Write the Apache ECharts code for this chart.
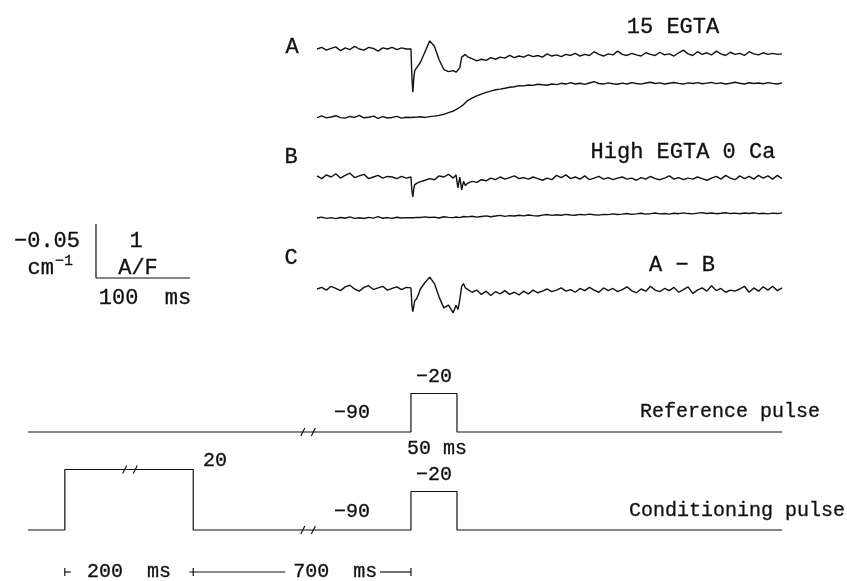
<!DOCTYPE html>
<html><head><meta charset="utf-8">
<script src="https://cdn.jsdelivr.net/npm/echarts@6/dist/echarts.min.js"></script>
<style>html,body{margin:0;padding:0;background:#fff}#c{width:847px;height:581px}</style>
</head><body><div id="c"></div>
<script>
// ---- time base of the recorded traces (ms, relative to test-pulse onset) ----
const traceTime = [
 -100,-95,-90,-85,-80,-75,-70,-65,-60,-55,-50,-45,-40,-35,-30,-25,-20,-15,-10,-5,
 0,1,2,3,4,6,8,10,
 15,20,25,30,35,40,45,
 48,50,52,54,56,58,
 60,65,70,75,80,85,90,95,100,105,
 110,115,120,125,130,135,140,145,150,155,
 160,165,170,175,180,185,190,195,200,205,
 210,215,220,225,230,235,240,245,250,255,
 260,265,270,275,280,285,290,295,300,305,
 310,315,320,325,330,335,340,345,350,355,
 360,365,370,375,380,385,390,395
];
// A: 15 EGTA, current (A/F)
const traceA1 = [
 0.00,0.03,-0.02,0.01,0.04,-0.03,0.02,-0.01,0.05,0.00,-0.02,0.03,0.01,-0.04,0.02,0.00,0.03,-0.01,0.02,0.00,
 0.00,-0.50,-0.80,-0.55,-0.40,-0.35,-0.30,-0.25,
 -0.05,0.15,0.05,-0.20,-0.38,-0.42,-0.40,
 -0.43,-0.45,-0.35,-0.15,-0.12,-0.10,
 -0.14,-0.18,-0.22,-0.19,-0.21,-0.16,-0.19,-0.15,-0.17,-0.12,
 -0.16,-0.13,-0.15,-0.11,-0.14,-0.12,-0.15,-0.09,-0.13,-0.11,
 -0.14,-0.10,-0.12,-0.08,-0.13,-0.10,-0.12,-0.05,-0.10,-0.13,
 -0.09,-0.11,-0.04,-0.10,-0.12,-0.08,-0.11,-0.13,-0.07,-0.10,
 -0.12,-0.06,-0.11,-0.09,-0.13,-0.07,-0.02,-0.09,-0.12,-0.05,
 -0.10,-0.07,-0.11,-0.04,-0.09,-0.12,-0.06,-0.10,-0.08,-0.12,
 -0.05,-0.09,-0.11,-0.07,-0.10,-0.08,-0.10,-0.09
];
// A: 15 EGTA, absorbance (cm^-1)
const traceA2 = [
 0.0005,-0.0010,0.0008,0.0000,-0.0012,0.0006,0.0010,-0.0005,0.0003,-0.0015,0.0007,0.0002,-0.0008,0.0012,-0.0003,0.0009,0.0004,-0.0006,0.0011,0.0002,
 0.0005,0.0003,0.0006,0.0002,0.0004,0.0001,0.0003,-0.0002,
 0.0004,-0.0003,-0.0008,-0.0015,-0.0025,-0.0040,-0.0055,
 -0.0068,-0.0078,-0.0090,-0.0102,-0.0115,-0.0130,
 -0.0150,-0.0175,-0.0195,-0.0212,-0.0228,-0.0240,-0.0252,-0.0258,-0.0266,-0.0275,
 -0.0280,-0.0290,-0.0288,-0.0296,-0.0293,-0.0303,-0.0298,-0.0294,-0.0306,-0.0300,
 -0.0312,-0.0305,-0.0318,-0.0306,-0.0312,-0.0302,-0.0315,-0.0328,-0.0310,-0.0305,
 -0.0316,-0.0308,-0.0303,-0.0314,-0.0306,-0.0318,-0.0310,-0.0304,-0.0315,-0.0322,
 -0.0310,-0.0316,-0.0306,-0.0313,-0.0320,-0.0311,-0.0305,-0.0316,-0.0310,-0.0318,
 -0.0308,-0.0314,-0.0320,-0.0309,-0.0316,-0.0306,-0.0313,-0.0322,-0.0312,-0.0306,
 -0.0317,-0.0310,-0.0315,-0.0308,-0.0318,-0.0311,-0.0306,-0.0316
];
// B: High EGTA 0 Ca, current (A/F)
const traceB1 = [
 0.02,-0.03,0.04,0.00,0.06,-0.02,0.03,0.07,-0.01,0.02,0.05,-0.03,0.00,0.03,-0.02,0.01,0.00,-0.03,0.01,-0.02,
 0.00,-0.25,-0.37,-0.22,-0.14,-0.15,-0.10,-0.11,
 -0.06,-0.03,-0.05,0.02,0.00,0.05,-0.02,
 0.04,-0.20,0.00,-0.24,-0.08,-0.16,
 -0.12,-0.08,-0.10,-0.05,-0.07,-0.02,-0.05,0.00,-0.04,-0.01,
 0.02,-0.03,-0.01,-0.04,0.00,-0.03,-0.06,-0.02,-0.05,0.03,
 -0.01,0.04,-0.03,0.00,-0.04,0.02,-0.05,-0.02,0.01,-0.04,
 -0.01,-0.05,-0.02,0.00,-0.04,-0.02,-0.06,-0.01,-0.04,0.01,
 -0.03,-0.05,-0.02,0.02,-0.04,-0.01,-0.05,-0.02,-0.04,0.00,
 -0.03,-0.06,-0.02,0.01,-0.04,0.03,-0.02,-0.05,0.02,-0.03,
 0.01,-0.04,0.03,-0.02,0.02,-0.04,0.03,-0.03
];
// B: High EGTA 0 Ca, absorbance (cm^-1)
const traceB2 = [
 0.0000,-0.0008,0.0004,-0.0003,0.0006,-0.0005,0.0002,-0.0010,0.0003,-0.0002,0.0005,-0.0006,0.0001,-0.0012,0.0002,-0.0004,0.0004,-0.0007,0.0000,-0.0003,
 -0.0002,-0.0005,0.0001,-0.0003,0.0000,-0.0006,-0.0002,-0.0004,
 -0.0010,-0.0004,-0.0008,0.0000,-0.0012,-0.0006,-0.0003,
 -0.0009,-0.0012,-0.0004,-0.0008,-0.0014,-0.0006,
 -0.0010,-0.0016,-0.0008,-0.0014,-0.0020,-0.0012,-0.0018,-0.0024,-0.0015,-0.0022,
 -0.0018,-0.0026,-0.0020,-0.0028,-0.0022,-0.0019,-0.0027,-0.0032,-0.0024,-0.0030,
 -0.0026,-0.0034,-0.0028,-0.0025,-0.0033,-0.0029,-0.0036,-0.0030,-0.0027,-0.0034,
 -0.0031,-0.0038,-0.0032,-0.0036,-0.0042,-0.0034,-0.0038,-0.0044,-0.0036,-0.0040,
 -0.0046,-0.0038,-0.0042,-0.0036,-0.0044,-0.0040,-0.0047,-0.0041,-0.0038,-0.0045,
 -0.0050,-0.0042,-0.0046,-0.0040,-0.0044,-0.0049,-0.0041,-0.0045,-0.0039,-0.0046,
 -0.0042,-0.0048,-0.0040,-0.0044,-0.0038,-0.0045,-0.0041,-0.0047
];
// C: A - B (A/F)
const traceC = [
 0.00,0.03,-0.02,0.05,0.01,-0.03,0.04,0.07,0.00,-0.04,0.03,0.06,-0.01,0.02,0.05,-0.02,0.01,0.04,-0.01,0.03,
 0.02,-0.30,-0.42,-0.32,-0.22,-0.18,-0.10,0.00,
 0.12,0.22,0.10,-0.15,-0.35,-0.30,-0.44,
 -0.30,-0.38,-0.20,0.05,0.10,0.02,
 0.04,-0.06,-0.02,-0.10,-0.04,-0.12,-0.05,-0.09,-0.03,-0.10,
 -0.06,-0.11,-0.04,-0.09,-0.02,-0.07,-0.04,0.00,-0.05,-0.02,
 0.02,-0.04,-0.01,-0.06,0.01,-0.03,0.03,-0.02,-0.06,0.02,
 -0.03,0.01,-0.05,-0.01,0.04,-0.03,-0.07,0.00,-0.04,0.05,
 -0.02,-0.05,0.01,-0.03,0.03,-0.06,-0.01,0.04,-0.08,-0.02,
 0.02,-0.04,0.06,-0.03,0.01,-0.06,-0.02,-0.04,0.00,0.05,
 -0.06,0.02,-0.04,0.04,-0.02,0.05,-0.03,0.02
];
// ---- pulse protocols (time ms, membrane potential mV) ----
const refPulseTime = [-40, 900, 900, 950, 950, 1303];
const refPulseMv   = [-90, -90, -20, -20, -90, -90];
const condPulseTime = [-40, 0, 0, 200, 200, 900, 900, 950, 950, 1303];
const condPulseMv   = [-90, -90, 20, 20, -90, -90, -20, -20, -90, -90];
const axisBreaks = [[65, 137], [319, 794]]; // omitted time spans (ms)
const refBreakMarks = [[319, -90], [794, -90]];
const condBreakMarks = [[65, 20], [137, 20], [319, -90], [794, -90]];

// ---- layout ----
const FONT = '"Liberation Mono", "Courier New", monospace';
const PX_PER_UNIT = 54;           // 1 A/F  == 0.05 cm^-1
const PX_PER_CM = PX_PER_UNIT / 0.05;
const TR_LEFT = 317, TR_WIDTH = 465, T_MIN = -100, T_MAX = 395;
const PX_PER_MS = TR_WIDTH / (T_MAX - T_MIN);
const PX_PER_MV = 0.55;

const chart = echarts.init(document.getElementById('c'), null, {renderer: 'canvas'});
const grids = [], xAxes = [], yAxes = [], series = [];

function pairs(xs, ys) { return xs.map((x, i) => [x, ys[i]]); }

function addTrace(values, baseY, kind) {
  const gi = grids.length;
  if (kind === 'AF') {
    const lo = -1, hi = 0.5;
    grids.push({left: TR_LEFT, width: TR_WIDTH, top: baseY - hi * PX_PER_UNIT, height: (hi - lo) * PX_PER_UNIT});
    yAxes.push({gridIndex: gi, type: 'value', min: lo, max: hi, show: false});
  } else {
    const lo = -0.04, hi = 0.01;
    grids.push({left: TR_LEFT, width: TR_WIDTH, top: baseY - (0 - lo) * PX_PER_CM, height: (hi - lo) * PX_PER_CM});
    yAxes.push({gridIndex: gi, type: 'value', min: lo, max: hi, inverse: true, show: false});
  }
  xAxes.push({gridIndex: gi, type: 'value', min: T_MIN, max: T_MAX, show: false});
  series.push({type: 'line', xAxisIndex: gi, yAxisIndex: gi, data: pairs(traceTime, values),
    showSymbol: false, symbol: 'none', lineStyle: {color: '#111', width: 1.4}, silent: true, animation: false});
}
addTrace(traceA1, 49, 'AF');
addTrace(traceA2, 117, 'CM');
addTrace(traceB1, 177, 'AF');
addTrace(traceB2, 218, 'CM');
addTrace(traceC, 289, 'AF');

function breakMarkSeries(gi, data) {
  return {type: 'custom', xAxisIndex: gi, yAxisIndex: gi, data: data, silent: true, animation: false, clip: false,
    renderItem: function (params, api) {
      const p = api.coord([api.value(0), api.value(1)]);
      return {type: 'line', shape: {x1: p[0] - 2, y1: p[1] + 4, x2: p[0] + 2, y2: p[1] - 4},
        style: {stroke: '#111', lineWidth: 1.2}};
    }};
}
function addProtocol(times, mv, baseY, marks) {
  const gi = grids.length;
  const lo = -100, hi = 30;
  grids.push({left: 28, width: 754, top: baseY - (hi - (-90)) * PX_PER_MV, height: (hi - lo) * PX_PER_MV});
  xAxes.push({gridIndex: gi, type: 'value', min: -40, max: 1303, show: false,
    breaks: axisBreaks.map(b => ({start: b[0], end: b[1], gap: '1.4%'})),
    breakArea: {show: false}});
  yAxes.push({gridIndex: gi, type: 'value', min: lo, max: hi, show: false});
  series.push({type: 'line', xAxisIndex: gi, yAxisIndex: gi, data: pairs(times, mv),
    showSymbol: false, symbol: 'none', lineStyle: {color: '#111', width: 1.2}, silent: true, animation: false});
  series.push(breakMarkSeries(gi, marks));
  return gi;
}
const refGi = addProtocol(refPulseTime, refPulseMv, 432, refBreakMarks);
const condGi = addProtocol(condPulseTime, condPulseMv, 530, condBreakMarks);

function txt(t, x, y, size, align) {
  return {type: 'text', silent: true, style: {text: t, x: x, y: y, fill: '#111',
    stroke: '#111', lineWidth: 0.3,
    font: size + 'px ' + FONT, align: align || 'center', verticalAlign: 'middle'}};
}
function ln(x1, y1, x2, y2, w) {
  return {type: 'line', silent: true, shape: {x1, y1, x2, y2}, style: {stroke: '#111', lineWidth: w || 1.2}};
}

chart.setOption({
  animation: false,
  backgroundColor: '#fff',
  grid: grids, xAxis: xAxes, yAxis: yAxes, series: series
});

// annotations positioned from the axes' scales
const X = (gi, t) => chart.convertToPixel({xAxisIndex: gi}, t);
const sbX = 96, sbY = 278;
const x0 = X(condGi, 0), x200 = X(condGi, 200), x900 = X(condGi, 900);
const by = 572;
const graphics = [
  txt('A', 292, 47, 22), txt('15 EGTA', 673, 27, 22),
  txt('B', 291, 157, 22), txt('High EGTA 0 Ca', 683, 152, 22),
  txt('C', 291, 258, 22), txt('A \u2212 B', 682, 265, 22),
  // scale bar
  ln(sbX, sbY - PX_PER_UNIT, sbX, sbY), ln(sbX, sbY, sbX + 100 * PX_PER_MS, sbY),
  txt('\u22120.05', 80, 241, 22, 'right'),
  txt('cm', 54, 268, 22, 'right'), txt('\u22121', 55, 261, 15, 'left'),
  txt('1', 136, 241, 22), txt('A/F', 138, 268, 22),
  txt('100  ms', 145, 298, 22),
  // protocols
  txt('\u221290', 352, 413, 20), txt('\u221220', 434, 377, 20), txt('50 ms', 437, 449, 20),
  txt('Reference pulse', 820, 412, 20, 'right'),
  txt('20', 215, 461, 20), txt('\u221290', 352, 512, 20), txt('\u221220', 434, 475, 20),
  txt('Conditioning pulse', 845, 511, 20, 'right'),
  // time dimension line
  ln(x0, by - 4, x0, by + 4), ln(x0, by, x0 + 6, by),
  txt('200  ms', (x0 + x200) / 2, by, 20),
  ln(x200, by - 4, x200, by + 4), ln(x200 - 4, by, x200 + 92, by),
  txt('700  ms', x200 + 142, by, 20),
  ln(x900 - 31, by, x900, by), ln(x900, by - 4, x900, by + 4)
];
chart.setOption({graphic: graphics});
</script></body></html>
